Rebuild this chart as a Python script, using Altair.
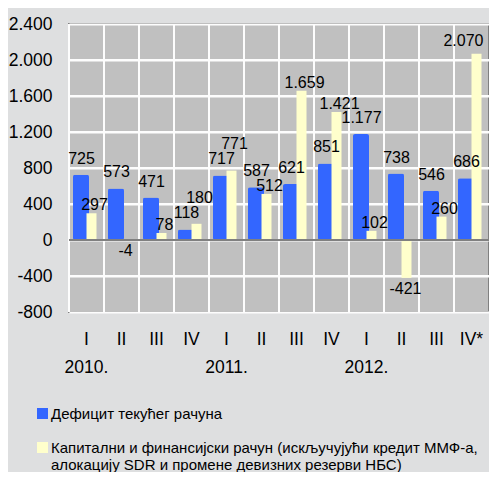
import altair as alt
import pandas as pd

quarters = ["I", "II", "III", "IV", "I", "II", "III", "IV", "I", "II", "III", "IV*"]
years = ["2010.", "", "", "", "2011.", "", "", "", "2012.", "", "", ""]
deficit = [725, 573, 471, 118, 717, 587, 621, 851, 1177, 738, 546, 686]
capital = [297, -4, 78, 180, 771, 512, 1659, 1421, 102, -421, 260, 2070]
series_names = [
    "Дефицит текућег рачуна",
    "Капитални и финансијски рачун (искључујући кредит ММФ-а,|алокацију SDR и промене девизних резерви НБС)",
]
y_ticks = [-800, -400, 0, 400, 800, 1200, 1600, 2000, 2400]
colors = ["#3366ff", "#ffffcc"]

FONT = "Liberation Sans"
GRID = "#fdfdfd"

keys = [f"{i:02d}|{q}|{y}" for i, (q, y) in enumerate(zip(quarters, years))]
rows = []
for k, d, c in zip(keys, deficit, capital):
    rows.append({"key": k, "series": series_names[0], "value": d, "other": c})
    rows.append({"key": k, "series": series_names[1], "value": c, "other": d})
df = pd.DataFrame(rows)
vgrid_df = pd.DataFrame({"key": keys})
hgrid_df = pd.DataFrame({"value": y_ticks[1:-1]})

fmt = "(datum.value < 0 ? '-' : '') + replace(format(abs(datum.value), ','), ',', '.')"

x_scale = alt.Scale(domain=keys, paddingInner=0, paddingOuter=0)
x_axis = alt.Axis(
    title=None,
    labelExpr="slice(split(datum.label, '|'), 1)",
    ticks=False,
    domain=False,
    grid=False,
    labelFontSize=17.5,
    labelFont=FONT,
    labelColor="black",
    labelPadding=18,
    labelLineHeight=28,
    labelAngle=0,
    labelOverlap=False,
)
y_scale = alt.Scale(domain=[-800, 2400], nice=False, zero=False)
y_axis = alt.Axis(
    title=None,
    values=y_ticks,
    labelExpr=fmt,
    grid=True,
    gridColor=GRID,
    gridWidth=2,
    ticks=False,
    domain=False,
    labelFontSize=17.5,
    labelFont=FONT,
    labelColor="black",
    labelPadding=17,
    labelOverlap=False,
    labelFlush=False,
)


def X(**kw):
    return alt.X("key:N", sort=keys, scale=x_scale, axis=x_axis, **kw)


def Y(field="value"):
    return alt.Y(f"{field}:Q", scale=y_scale, axis=y_axis)


color_enc = alt.Color(
    "series:N",
    scale=alt.Scale(domain=series_names, range=colors),
    legend=alt.Legend(
        title=None,
        orient="none",
        legendX=-34,
        legendY=382,
        symbolType="square",
        symbolSize=121,
        symbolStrokeWidth=0,
        labelFontSize=15,
        labelFont=FONT,
        labelColor="black",
        labelLimit=600,
        labelOffset=1,
        labelExpr="split(datum.label, '|')",
        rowPadding=18,
        padding=0,
    ),
)

vgrid = alt.Chart(vgrid_df).mark_rule(color=GRID, strokeWidth=2).encode(
    x=X(bandPosition=0)
)
hgrid = alt.Chart(hgrid_df).mark_rule(color=GRID, strokeWidth=2).encode(
    y=Y()
)

base = alt.Chart(df)
blue = base.transform_filter(alt.datum.series == series_names[0])
yellow = base.transform_filter(alt.datum.series == series_names[1])

blue_bars = blue.mark_bar(size=16, xOffset=-5.5, cornerRadius=2).encode(
    x=X(), y=Y(), color=color_enc
)
yellow_bars = yellow.mark_bar(size=10, xOffset=5).encode(
    x=X(), y=Y(), color=color_enc
)

zero = (
    alt.Chart(vgrid_df)
    .transform_calculate(value="0")
    .mark_rule(color="#808080", strokeWidth=2)
    .encode(y=Y())
)

txt = dict(fontSize=16, font=FONT, color="black")
blue_text = blue.transform_calculate(lab=fmt).mark_text(
    dx=-5, dy=-11, baseline="alphabetic", **txt
).encode(x=X(), y=Y(), text="lab:N")

lifted = yellow.transform_filter(alt.datum.value >= 0).transform_calculate(
    lab=fmt,
    anchor="datum.value >= datum.other ? max(datum.value, datum.other + 260) : datum.value",
)
yellow_pos_text = lifted.transform_filter(alt.datum.key != keys[-1]).mark_text(
    dx=8, dy=-3, baseline="alphabetic", **txt
).encode(x=X(), y=Y("anchor"), text="lab:N")
yellow_edge_text = lifted.transform_filter(alt.datum.key == keys[-1]).mark_text(
    dx=12, dy=-8, baseline="alphabetic", align="right", **txt
).encode(x=X(), y=Y("anchor"), text="lab:N")
yellow_neg_text = yellow.transform_filter(alt.datum.value < 0).transform_calculate(
    lab=fmt
).mark_text(dx=4, dy=3, baseline="top", **txt).encode(
    x=X(), y=Y(), text="lab:N"
)

chart = (
    alt.layer(
        vgrid, hgrid, blue_bars, yellow_bars, zero,
        blue_text, yellow_pos_text, yellow_edge_text, yellow_neg_text,
    )
    .properties(
        width=420,
        height=288,
        autosize=alt.AutoSizeParams(type="none"),
        padding={"left": 61, "top": 16, "right": 0, "bottom": 160},
        background="#dedfe0",
    )
    .configure_view(fill="#c0c0c0", stroke="#808080", strokeWidth=2)
)

chart.save("out.html", embed_options={"renderer": "svg", "actions": False})
